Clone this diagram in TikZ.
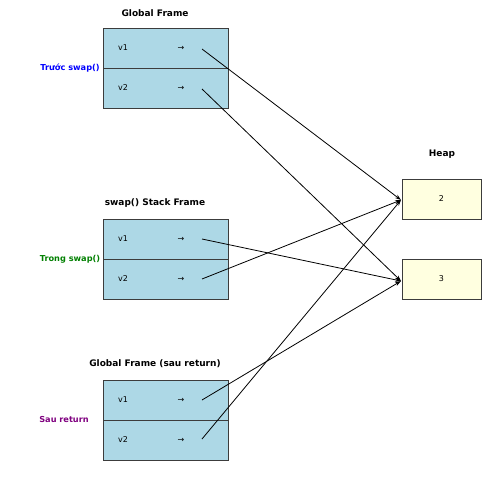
\documentclass[tikz,border=0pt]{standalone}
\usepackage{fontspec}
\setmainfont{DejaVu Sans}
\usetikzlibrary{arrows.meta}
\definecolor{frameblue}{RGB}{173,216,230}
\definecolor{heapyellow}{RGB}{255,255,224}
\definecolor{edgegray}{RGB}{60,60,60}
\definecolor{lblgreen}{RGB}{0,128,0}
\definecolor{lblpurple}{RGB}{128,0,128}
\tikzset{
  cell/.style={draw=edgegray, line width=0.8pt, fill=frameblue, minimum width=125pt, minimum height=40pt, inner sep=0pt, outer sep=0pt},
  heapbox/.style={draw=edgegray, line width=0.8pt, fill=heapyellow, minimum width=79pt, minimum height=40pt, inner sep=0pt, font=\fontsize{8}{9}\selectfont},
  vartext/.style={font=\fontsize{8}{9}\selectfont, inner sep=0pt},
  titletext/.style={font=\fontsize{9}{10}\selectfont\bfseries, inner sep=0pt},
  sidelabel/.style={font=\fontsize{8.2}{9}\selectfont\bfseries, inner sep=0pt},
  ptr/.style={line width=0.8pt, black, -{Stealth[length=6pt,width=4pt]}}
}
\begin{document}
\begin{tikzpicture}[x=1pt,y=-1pt]
\useasboundingbox (0,0) rectangle (502,479);
\fill[white] (0,0) rectangle (502,479);
% Global Frame
\node[titletext] (t1) at (155,13) {Global Frame};
\node[cell] (g1) at (165.5,48) {};
\node[cell] (g2) at (165.5,88) {};
\node[vartext] (g1n) at (123,48) {v1};
\node[vartext] (g1a) at (181,48) {→};
\node[vartext] (g2n) at (123,88) {v2};
\node[vartext] (g2a) at (181,88) {→};
\node[sidelabel, text=blue] (l1) at (70,68) {Trước swap()};
% Stack frame
\node[titletext] (t2) at (155,203) {swap() Stack Frame};
\node[cell] (s1) at (165.5,239) {};
\node[cell] (s2) at (165.5,279) {};
\node[vartext] (s1n) at (123,239) {v1};
\node[vartext] (s1a) at (181,239) {→};
\node[vartext] (s2n) at (123,279) {v2};
\node[vartext] (s2a) at (181,279) {→};
\node[sidelabel, text=lblgreen] (l2) at (70,259) {Trong swap()};
% Global after
\node[titletext] (t3) at (155,364) {Global Frame (sau return)};
\node[cell] (a1) at (165.5,400) {};
\node[cell] (a2) at (165.5,440) {};
\node[vartext] (a1n) at (123,400) {v1};
\node[vartext] (a1a) at (181,400) {→};
\node[vartext] (a2n) at (123,440) {v2};
\node[vartext] (a2a) at (181,440) {→};
\node[sidelabel, text=lblpurple] (l3) at (64,420) {Sau return};
% Heap
\node[titletext] (th) at (442,154) {Heap};
\node[heapbox] (h2) at (441.5,199) {2};
\node[heapbox] (h3) at (441.5,279) {3};
\coordinate (h2in) at (401,200);
\coordinate (h3in) at (401,281);
% pointer starts
\coordinate (pg1) at (202,49);
\coordinate (pg2) at (202,89);
\coordinate (ps1) at (202,239);
\coordinate (ps2) at (202,279);
\coordinate (pa1) at (202,400);
\coordinate (pa2) at (202,439);
\draw[ptr] (pg1) -- (h2in);
\draw[ptr] (pg2) -- (h3in);
\draw[ptr] (ps1) -- (h3in);
\draw[ptr] (ps2) -- (h2in);
\draw[ptr] (pa1) -- (h3in);
\draw[ptr] (pa2) -- (h2in);
\end{tikzpicture}
\end{document}
